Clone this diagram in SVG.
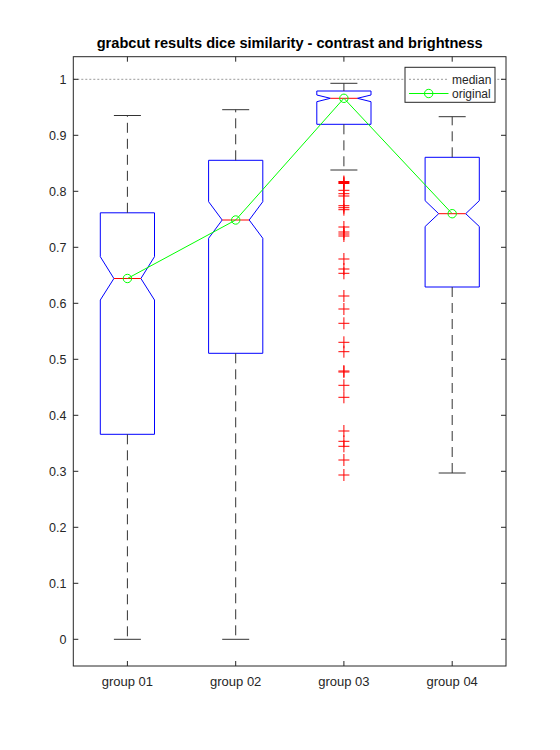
<svg xmlns="http://www.w3.org/2000/svg" width="560" height="750" viewBox="0 0 560 750">
<style>
text{font-family:"Liberation Sans",Arial,sans-serif;fill:#262626}
.tick{font-size:12.5px;text-anchor:end}
.glab{font-size:13px;text-anchor:middle}
.title{font-size:14.6px;font-weight:bold;text-anchor:middle;fill:#000}
.ax{stroke:#262626;stroke-width:1;fill:none}
.box{stroke:#0000ff;stroke-width:1;fill:none}
.med{stroke:#ff0000;stroke-width:1;fill:none}
.wh{stroke:#333;stroke-width:1;stroke-dasharray:10 6;fill:none}
.cap{stroke:#333;stroke-width:1;fill:none}
.out{stroke:#ff0000;stroke-width:1;fill:none}
.grn{stroke:#00ff00;stroke-width:1;fill:none}
.refl{stroke:#9a9a9a;stroke-width:1;stroke-dasharray:2 2;fill:none}
.leg{font-size:12px}
</style>
<defs>
<path id="plus" d="M-5.5,0H5.5M0,-6V6" class="out"/>
</defs>
<rect x="0" y="0" width="560" height="750" fill="#fff"/>
<g id="plot-area">
<rect x="73.3" y="56.7" width="432.7" height="609.3" fill="#fff"/>
<line class="refl" x1="73.3" y1="79.3" x2="506" y2="79.3"/>
</g>
<g id="group01">
<path class="box" d="M100.3,212.8H154.5V256.7L140.9,278.5L154.5,300V434.3H100.3V300L113.9,278.5L100.3,256.7Z"/>
<path class="med" d="M113.9,278.5H140.9"/>
<path class="wh" d="M127.4,212.8V115.5M127.4,434.3V639.3"/>
<path class="cap" d="M113.9,115.5H140.9M113.9,639.3H140.9"/>
</g>
<g id="group02">
<path class="box" d="M208.6,160.3H262.8V201.7L249.2,220L262.8,238.3V353.3H208.6V238.3L222.2,220L208.6,201.7Z"/>
<path class="med" d="M222.2,220H249.2"/>
<path class="wh" d="M235.7,160.3V109.7M235.7,353.3V639.3"/>
<path class="cap" d="M222.2,109.7H249.2M222.2,639.3H249.2"/>
</g>
<g id="group03">
<path class="box" d="M316.8,91H371V95L357.4,98.3L371,101.7V124.3H316.8V101.7L330.4,98.3L316.8,95Z"/>
<path class="med" d="M330.4,98.3H357.4"/>
<path class="wh" d="M343.9,91V83.3M343.9,124.3V170"/>
<path class="cap" d="M330.4,83.3H357.4M330.4,170H357.4"/>
<g id="outliers03">
<use href="#plus" x="343.9" y="181.5"/><use href="#plus" x="343.9" y="182.5"/><use href="#plus" x="343.9" y="183.5"/>
<use href="#plus" x="343.9" y="190.3"/><use href="#plus" x="343.9" y="193.7"/><use href="#plus" x="343.9" y="196"/>
<use href="#plus" x="343.9" y="205.7"/><use href="#plus" x="343.9" y="207.7"/><use href="#plus" x="343.9" y="209.7"/>
<use href="#plus" x="343.9" y="227"/><use href="#plus" x="343.9" y="232"/><use href="#plus" x="343.9" y="234"/><use href="#plus" x="343.9" y="236"/>
<use href="#plus" x="343.9" y="259"/><use href="#plus" x="343.9" y="269"/><use href="#plus" x="343.9" y="273.3"/>
<use href="#plus" x="343.9" y="296"/><use href="#plus" x="343.9" y="309"/><use href="#plus" x="343.9" y="323.3"/>
<use href="#plus" x="343.9" y="342.3"/><use href="#plus" x="343.9" y="351.7"/>
<use href="#plus" x="343.9" y="371"/><use href="#plus" x="343.9" y="372"/>
<use href="#plus" x="343.9" y="385.3"/><use href="#plus" x="343.9" y="397.3"/>
<use href="#plus" x="343.9" y="431"/><use href="#plus" x="343.9" y="441.3"/><use href="#plus" x="343.9" y="446.3"/>
<use href="#plus" x="343.9" y="460"/><use href="#plus" x="343.9" y="475"/>
</g>
</g>
<g id="group04">
<path class="box" d="M425.1,157.3H479.3V200.7L465.7,213.7L479.3,226.5V287H425.1V226.5L438.7,213.7L425.1,200.7Z"/>
<path class="med" d="M438.7,213.7H465.7"/>
<path class="wh" d="M452.2,157.3V116.7M452.2,287V473"/>
<path class="cap" d="M438.7,116.7H465.7M438.7,473H465.7"/>
</g>
<g id="connectors">
<polyline class="grn" points="127.4,278.5 235.7,220 343.9,98.3 452.2,213.7"/>
<circle class="grn" cx="127.4" cy="278.5" r="4.2"/>
<circle class="grn" cx="235.7" cy="220" r="4.2"/>
<circle class="grn" cx="343.9" cy="98.3" r="4.2"/>
<circle class="grn" cx="452.2" cy="213.7" r="4.2"/>
</g>
<g id="axes">
<rect class="ax" x="73.3" y="56.7" width="432.7" height="609.3"/>
<path class="ax" d="M127.4,666v-5M235.7,666v-5M343.9,666v-5M452.2,666v-5M127.4,56.7v5M235.7,56.7v5M343.9,56.7v5M452.2,56.7v5"/>
<path class="ax" d="M73.3,639.3h5M73.3,583.3h5M73.3,527.3h5M73.3,471.3h5M73.3,415.3h5M73.3,359.3h5M73.3,303.3h5M73.3,247.3h5M73.3,191.3h5M73.3,135.3h5M73.3,79.3h5M506,639.3h-5M506,583.3h-5M506,527.3h-5M506,471.3h-5M506,415.3h-5M506,359.3h-5M506,303.3h-5M506,247.3h-5M506,191.3h-5M506,135.3h-5M506,79.3h-5"/>
<text class="tick" x="66.5" y="643.8">0</text>
<text class="tick" x="66.5" y="587.8">0.1</text>
<text class="tick" x="66.5" y="531.8">0.2</text>
<text class="tick" x="66.5" y="475.8">0.3</text>
<text class="tick" x="66.5" y="419.8">0.4</text>
<text class="tick" x="66.5" y="363.8">0.5</text>
<text class="tick" x="66.5" y="307.8">0.6</text>
<text class="tick" x="66.5" y="251.8">0.7</text>
<text class="tick" x="66.5" y="195.8">0.8</text>
<text class="tick" x="66.5" y="139.8">0.9</text>
<text class="tick" x="66.5" y="83.8">1</text>
<text class="glab" x="127.4" y="685.7">group 01</text>
<text class="glab" x="235.7" y="685.7">group 02</text>
<text class="glab" x="343.9" y="685.7">group 03</text>
<text class="glab" x="452.2" y="685.7">group 04</text>
<text class="title" x="289.7" y="48.3">grabcut results dice similarity - contrast and brightness</text>
</g>
<g id="legend">
<rect x="405" y="67.3" width="90" height="35" fill="#fff" stroke="#262626" stroke-width="1"/>
<line class="refl" x1="409" y1="79.3" x2="448.5" y2="79.3"/>
<text class="leg" x="452" y="83.5">median</text>
<line class="grn" x1="409" y1="93.5" x2="448.5" y2="93.5"/>
<circle class="grn" cx="428.7" cy="93.5" r="4.2"/>
<text class="leg" x="452" y="97.8">original</text>
</g>
</svg>
